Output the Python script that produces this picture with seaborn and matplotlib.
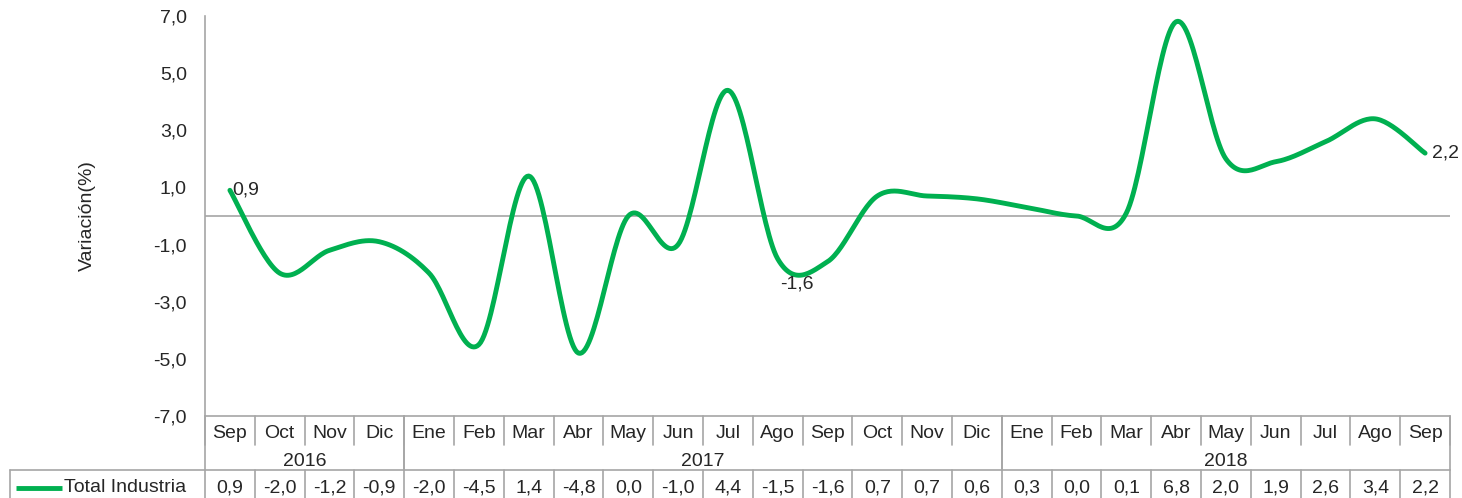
import numpy as np
import seaborn as sns
import matplotlib.pyplot as plt

months = ["Sep", "Oct", "Nov", "Dic",
          "Ene", "Feb", "Mar", "Abr", "May", "Jun", "Jul", "Ago", "Sep", "Oct", "Nov", "Dic",
          "Ene", "Feb", "Mar", "Abr", "May", "Jun", "Jul", "Ago", "Sep"]
years = ["2016", "2017", "2018"]
year_span = [(0, 3), (4, 15), (16, 24)]
values = [0.9, -2.0, -1.2, -0.9,
          -2.0, -4.5, 1.4, -4.8, 0.0, -1.0, 4.4, -1.5, -1.6, 0.7, 0.7, 0.6,
          0.3, 0.0, 0.1, 6.8, 2.0, 1.9, 2.6, 3.4, 2.2]
series_name = "Total Industria"
y_ticks = [-7, -5, -3, -1, 1, 3, 5, 7]

GREEN = "#00B050"
GRID = "#A6A6A6"
FS = 14

sns.set_style("white")
plt.rcParams["font.family"] = ["Liberation Sans", "DejaVu Sans"]


def smooth(y, n=30):
    # Excel-like smoothed line (Catmull-Rom as cubic Bezier)
    x = np.arange(len(y), dtype=float)
    p = np.column_stack([x, np.asarray(y, dtype=float)])
    ext = np.vstack([p[0], p, p[-1]])
    out = []
    t = np.linspace(0, 1, n)[:, None]
    for i in range(len(p) - 1):
        p0, p1, p2, p3 = ext[i], ext[i + 1], ext[i + 2], ext[i + 3]
        b1 = p1 + (p2 - p0) / 6
        b2 = p2 - (p3 - p1) / 6
        seg = ((1 - t) ** 3) * p1 + 3 * ((1 - t) ** 2) * t * b1 + 3 * (1 - t) * t ** 2 * b2 + t ** 3 * p2
        out.append(seg if i == 0 else seg[1:])
    s = np.vstack(out)
    return s[:, 0], s[:, 1]


fig = plt.figure(figsize=(14.62, 4.98), dpi=100)
ax = fig.add_axes([205 / 1462, 1 - 416 / 498, 1245 / 1462, 400 / 498])

sx, sy = smooth(values)
sns.lineplot(x=sx, y=sy, ax=ax, color=GREEN, linewidth=3.5, sort=False, estimator=None)
ax.axhline(0, color=GRID, lw=1.2, zorder=0)

ax.set_xlim(-0.5, len(values) - 0.5)
ax.set_ylim(-7, 7)
ax.set_yticks(y_ticks)
ax.set_yticklabels([f"{v:.1f}".replace(".", ",") for v in y_ticks], fontsize=FS)
ax.set_xticks([])
ax.tick_params(axis="y", length=0, pad=13)
for side in ["top", "right", "bottom"]:
    ax.spines[side].set_visible(False)
ax.spines["left"].set_color(GRID)
ax.spines["left"].set_linewidth(1.2)
ax.set_ylabel("Variación(%)", fontsize=FS)
ax.yaxis.set_label_coords(-0.088, 0.5)

# data labels
fmt = lambda v: f"{v:.1f}".replace(".", ",")
ax.annotate(fmt(values[0]), (0, values[0]), xytext=(2, 0), textcoords="offset points",
            fontsize=FS, ha="left", va="center")
ax.annotate(fmt(values[12]), (12, values[12]), xytext=(-22, -16), textcoords="offset points",
            fontsize=FS, ha="center", va="center")
ax.annotate(fmt(values[-1]), (len(values) - 1, values[-1]), xytext=(5, 0), textcoords="offset points",
            fontsize=FS, ha="left", va="center")

# data table below the plot
tr = ax.get_xaxis_transform()
px = 1 / 400  # one pixel in axes fraction (vertical)
y_top = 0
y_mon = -29 * px
y_yr = -54 * px
y_bot = -90 * px
line_kw = dict(color=GRID, lw=1.2, clip_on=False, transform=tr)
n = len(values)
left_edge = -0.5 - 195 / 49.8

ax.plot([-0.5, n - 0.5], [y_top, y_top], **line_kw)
ax.plot([left_edge, n - 0.5], [y_yr, y_yr], **line_kw)
for i in range(n + 1):
    xb = i - 0.5
    ax.plot([xb, xb], [y_yr, y_bot], **line_kw)
    ax.plot([xb, xb], [y_top, y_mon], **line_kw)
for a, b in year_span:
    for xb in (a - 0.5, b + 0.5):
        ax.plot([xb, xb], [y_top, y_yr], **line_kw)
ax.plot([left_edge, left_edge], [y_yr, y_bot], **line_kw)

for i, m in enumerate(months):
    ax.text(i, -17 * px, m, transform=tr, ha="center", va="center", fontsize=FS)
    ax.text(i, -72 * px, fmt(values[i]), transform=tr, ha="center", va="center", fontsize=FS)
for yr, (a, b) in zip(years, year_span):
    ax.text((a + b) / 2, -45 * px, yr, transform=tr, ha="center", va="center", fontsize=FS)

ax.plot([left_edge + 6 / 49.8, left_edge + 52 / 49.8], [-72 * px, -72 * px],
        color=GREEN, lw=3.5, clip_on=False, transform=tr, solid_capstyle="butt")
ax.text(left_edge + 54 / 49.8, -72 * px, series_name, transform=tr, ha="left", va="center", fontsize=FS)

fig.savefig("out.png", dpi=100)
